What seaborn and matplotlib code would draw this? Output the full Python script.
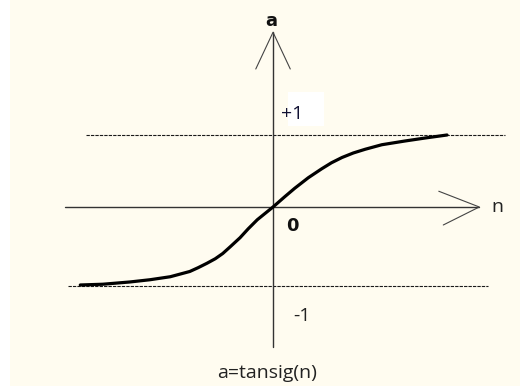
import numpy as np
import pandas as pd
import matplotlib
matplotlib.use("Agg")
import matplotlib.pyplot as plt
import seaborn as sns
from matplotlib.patches import Rectangle

# curve (n, a)
n_vals = [-2.57, -2.27, -1.91, -1.64, -1.37, -1.11, -1.00, -0.88, -0.77, -0.67, -0.57,
          -0.44, -0.33, -0.21, 0.0, 0.16, 0.29, 0.47, 0.65, 0.78, 0.92, 1.07, 1.23,
          1.45, 1.76, 2.03, 2.32]
a_vals = [-1.04, -1.03, -1.00, -0.97, -0.93, -0.86, -0.81, -0.75, -0.69, -0.62, -0.53,
          -0.41, -0.29, -0.17, 0.0, 0.14, 0.25, 0.39, 0.51, 0.59, 0.66, 0.72, 0.77,
          0.83, 0.88, 0.92, 0.96]

# dashed asymptote levels and their extents
upper_level = 0.96
upper_span = [-2.49, 3.09]
lower_level = -1.05
lower_span = [-2.73, 2.87]

# axis lines
n_axis_span = [-2.77, 2.75]
a_axis_span = [-1.87, 2.33]

# arrow heads
n_arrow_n = [2.21, 2.75, 2.27]
n_arrow_a = [0.21, 0.0, -0.24]
a_arrow_n = [-0.23, 0.0, 0.23]
a_arrow_a = [1.84, 2.33, 1.84]

label_a = "a"
label_n = "n"
label_plus = "+1"
label_minus = "-1"
label_zero = "0"
caption = "a=tansig(n)"

cream = "#FFFCF0"

sns.set_theme(style="white")
plt.rcParams['font.family'] = ['Open Sans', 'DejaVu Sans']

fig = plt.figure(figsize=(5.2, 3.92), dpi=100, facecolor="white")
ax = fig.add_axes([10 / 520, 6 / 392, 510 / 520, 386 / 392])
ax.set_xlim(-3.507, 3.293)
ax.set_ylim(-2.387, 2.76)
ax.set_axis_off()
# cream background (axis is off, so draw it as a patch)
ax.add_patch(Rectangle((0, 0), 1, 1, transform=ax.transAxes, facecolor=cream,
                       edgecolor="none", zorder=0))

# little white patch behind +1
ax.add_patch(Rectangle((0.2, 1.08), 0.48, 0.453, facecolor="white",
                       edgecolor="none", zorder=1))

# dashed levels
ax.plot(upper_span, [upper_level, upper_level], color="#1a1a1a", lw=0.8,
        linestyle=(0, (3, 1)), zorder=2)
ax.plot(lower_span, [lower_level, lower_level], color="#1a1a1a", lw=0.8,
        linestyle=(0, (3, 1)), zorder=2)

# axes
ax.plot(n_axis_span, [0, 0], color="#333333", lw=1.0, zorder=2)
ax.plot([0, 0], a_axis_span, color="#333333", lw=1.0, zorder=2)
ax.plot(n_arrow_n, n_arrow_a, color="#444444", lw=0.8, zorder=2)
ax.plot(a_arrow_n, a_arrow_a, color="#444444", lw=0.8, zorder=2)

# tansig curve
df = pd.DataFrame({"n": n_vals, "a": a_vals})
sns.lineplot(data=df, x="n", y="a", sort=False, color="black", lw=2.3, ax=ax,
             zorder=3, solid_capstyle="round", solid_joinstyle="round")
ax.set_xlabel("")
ax.set_ylabel("")

# labels
ax.text(-0.027, 2.413, label_a, ha="center", va="baseline", fontsize=13,
        fontweight="bold", family="DejaVu Sans", color="#111111", zorder=4)
ax.text(2.907, -0.067, label_n, ha="left", va="baseline", fontsize=14,
        color="#222222", zorder=4)
ax.text(0.107, 1.173, label_plus, ha="left", va="baseline", fontsize=14,
        color="#111133", zorder=4)
ax.text(0.267, -1.52, label_minus, ha="left", va="baseline", fontsize=14,
        color="#222222", zorder=4)
ax.text(0.253, -0.32, label_zero, ha="center", va="baseline", fontsize=13,
        fontweight="bold", family="DejaVu Sans", color="#111111", zorder=4)
ax.text(-0.073, -2.28, caption, ha="center", va="baseline", fontsize=14,
        color="#222222", zorder=4)

fig.savefig("out.png", dpi=100, facecolor="white")
